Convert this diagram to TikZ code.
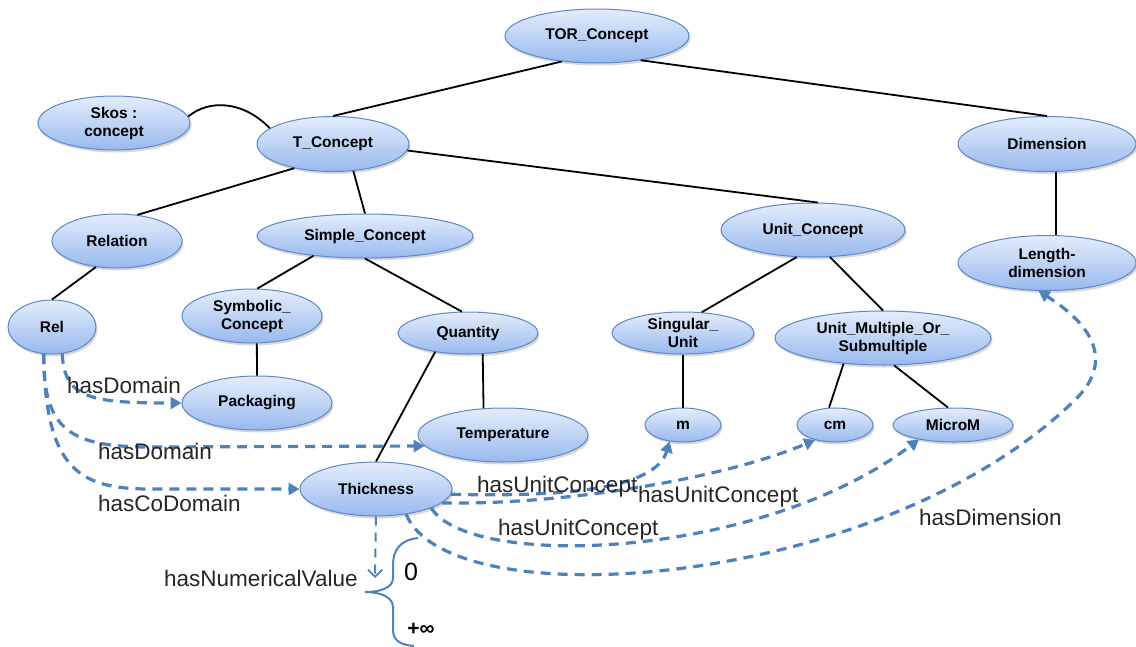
\documentclass[tikz,border=0pt]{standalone}
\usepackage{fontspec}
\setmainfont{Liberation Sans}
\usetikzlibrary{shapes.geometric,arrows.meta,shadows}
\definecolor{accent}{RGB}{79,129,189}
\definecolor{ctop}{RGB}{228,237,252}
\definecolor{cbot}{RGB}{152,185,238}
\definecolor{cedge}{RGB}{92,136,200}
\definecolor{lbl}{RGB}{38,38,38}
\begin{document}
\begin{tikzpicture}[x=1pt,y=-1pt,
  cnode/.style={ellipse, draw=cedge, line width=1pt, top color=ctop, bottom color=cbot,
    inner sep=-6pt, align=center, font=\bfseries\fontsize{15.5}{18}\selectfont,
    drop shadow={shadow xshift=1.5pt, shadow yshift=-2.5pt, opacity=0.3}},
  sz/.style 2 args={minimum width=#1pt, minimum height=#2pt},
  tedge/.style={draw=black, line width=1.8pt},
  reledge/.style={draw=accent, line width=3.2pt, dash pattern=on 10pt off 7pt, -{Triangle[length=11pt,width=12pt]}},
  numedge/.style={draw=accent, line width=2pt, dash pattern=on 9pt off 7pt, -{Straight Barb[length=7pt,width=14pt,line width=1.8pt]}},
  lab/.style={anchor=base west, inner sep=0pt, text=lbl, font=\fontsize{22.5}{26}\selectfont}
]
\fill[white] (0,0) rectangle (1136,646);
\useasboundingbox (0,0) rectangle (1136,646);

% concept nodes
\node[cnode, sz={184}{54}] (TOR) at (597,36) {TOR\_Concept};
\node[cnode, sz={152}{54}] (Skos) at (114,123) {Skos :\\concept};
\node[cnode, sz={152}{55}] (TC) at (333,144) {T\_Concept};
\node[cnode, sz={178}{55}] (Dim) at (1047,144) {Dimension};
\node[cnode, sz={130}{54}] (Relation) at (117,241) {Relation};
\node[cnode, sz={216}{44}] (Simple) at (365,236) {Simple\_Concept};
\node[cnode, sz={184}{54}] (UnitC) at (813,230) {Unit\_Concept};
\node[cnode, sz={178}{55}] (Length) at (1047,263) {Length-\\dimension};
\node[cnode, sz={88}{54}] (Rel) at (52,327) {Rel};
\node[cnode, sz={140}{54}] (Symb) at (252,316) {Symbolic\_\\Concept};
\node[cnode, sz={140}{42}] (Quantity) at (468,333) {Quantity};
\node[cnode, sz={142}{42}] (Singular) at (683,333) {Singular\_\\Unit};
\node[cnode, sz={216}{54}] (UnitMult) at (883,338) {Unit\_Multiple\_Or\_\\Submultiple};
\node[cnode, sz={150}{54}] (Packaging) at (257,403) {Packaging};
\node[cnode, sz={170}{54}] (Temp) at (503,435) {Temperature};
\node[cnode, sz={76}{34}] (m) at (683,425) {m};
\node[cnode, sz={76}{34}] (cm) at (835,425) {cm};
\node[cnode, sz={120}{34}] (MicroM) at (953,425) {MicroM};
\node[cnode, sz={152}{54}] (Thickness) at (376,489) {Thickness};

% tree edges
\draw[tedge] (TOR.216) -- (TC.north);
\draw[tedge] (TOR.331) -- (Dim.north);
\draw[tedge] (Skos.5) .. controls +(20,-17) and +(-27,-28) .. (TC.166);
\draw[tedge] (TC.212) -- (Relation.52);
\draw[tedge] (TC.307) -- (Simple.north);
\draw[tedge] (TC.355) -- (UnitC.80);
\draw[tedge] (Dim.-72) -- (Length.72);
\draw[tedge] (Relation.231) -- (Rel.north);
\draw[tedge] (Simple.201) -- (Symb.79);
\draw[tedge] (Simple.south) -- (Quantity.106);
\draw[tedge] (Symb.-80) -- (Packaging.north);
\draw[tedge] (Quantity.-55) -- (Temp.126);
\draw[tedge] (Quantity.210) -- (Thickness.north);
\draw[tedge] (UnitC.239) -- (Singular.48);
\draw[tedge] (UnitC.302) -- (UnitMult.north);
\draw[tedge] (Singular.south) -- (m.north);
\draw[tedge] (UnitMult.213) -- (cm.109);
\draw[tedge] (UnitMult.292) -- (MicroM.106);

% relation edges
\draw[reledge] (Rel.291) .. controls +(2,45) and +(-90,0) .. (Packaging.west);
\draw[reledge] (Rel.253) .. controls (43,430) and (70,447) .. (150,447) -- (Temp.188);
\draw[reledge] (Rel.253) .. controls (45,470) and (80,489) .. (150,489) -- (Thickness.west);
\draw[reledge] (Thickness.-4) .. controls (560,497) and (655,490) .. (m.231);
\draw[reledge] (Thickness.-12) .. controls (560,505) and (720,480) .. (cm.217);
\draw[reledge] (Thickness.-19) .. controls (470,570) and (760,560) .. (MicroM.203);
\draw[reledge] (Thickness.-40) .. controls (450,620) and (880,590) .. (1075,400)
  .. controls (1110,366) and (1100,330) .. (Length.253);
\coordinate (nv) at (375,578);
\draw[numedge] (Thickness.south) -- (nv);

% brace
\draw[accent, line width=2pt] (418,538) .. controls (400,540) and (393,550) .. (393,565)
  -- (393,578) .. controls (393,588) and (380,592) .. (365,592)
  .. controls (380,592) and (393,597) .. (393,607)
  -- (393,630) .. controls (393,640) and (400,645) .. (414,646);

% labels
\node[lab] (l1) at (67,393) {hasDomain};
\node[lab] (l2) at (98,459) {hasDomain};
\node[lab] (l3) at (98,511) {hasCoDomain};
\node[lab] (l4) at (164,586) {hasNumericalValue};
\node[lab] (l5) at (477,492) {hasUnitConcept};
\node[lab] (l6) at (638,502) {hasUnitConcept};
\node[lab] (l7) at (498,535) {hasUnitConcept};
\node[lab] (l8) at (919,525) {hasDimension};
\node[inner sep=0pt, font=\fontsize{25}{28}\selectfont] (zero) at (411,572) {0};
\node[inner sep=0pt, font=\bfseries\fontsize{21}{24}\selectfont] (inf) at (421,629) {+∞};
\end{tikzpicture}
\end{document}
